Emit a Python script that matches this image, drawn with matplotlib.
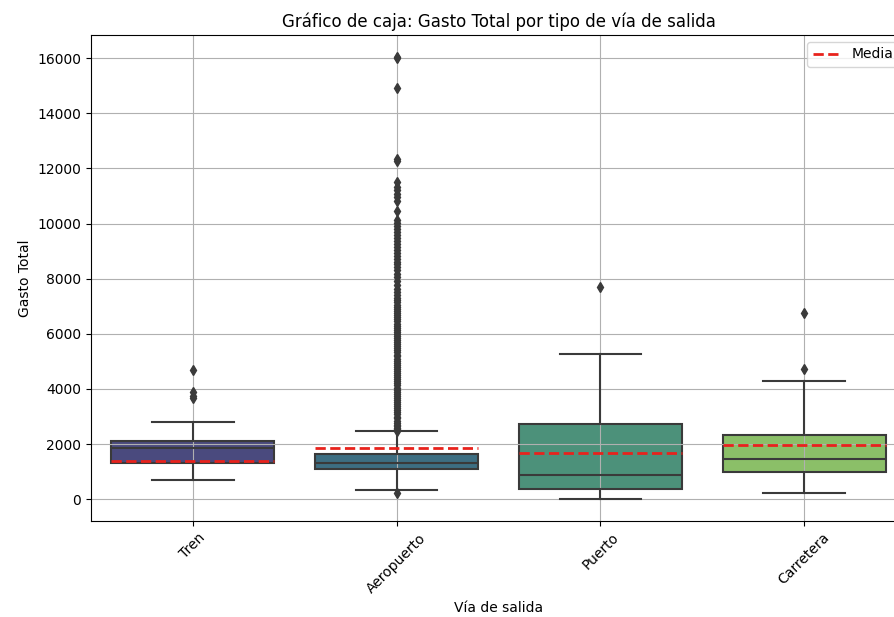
import matplotlib
matplotlib.use("Agg")
import matplotlib.pyplot as plt

# Box statistics of total spending per exit route
categorias = ["Tren", "Aeropuerto", "Puerto", "Carretera"]
q1 = [1306, 1078, 374, 991]
medianas = [1862, 1331, 896, 1476]
q3 = [2113, 1633, 2733, 2347]
bigote_inf = [715, 327, 11, 242]
bigote_sup = [2805, 2467, 5286, 4293]
medias = [1404, 1840, 1680, 1984]

atipicos_tren = [4680, 3880, 3760, 3680]
atipicos_aeropuerto = [
    16040, 15990, 14920, 12350, 12270, 11510, 11320, 11200, 11080, 10960,
    10830, 10440, 10120, 10010, 9900, 9790, 9680, 9590, 9480, 9370, 9260,
    9150, 9040, 8950, 8840, 8730, 8620, 8520, 8410, 8300, 8180, 8050, 7900,
    7760, 7620, 7500, 7400, 7310, 7220, 7140, 7060, 6980, 6900, 6830, 6750,
    6680, 6600, 6520, 6450, 6370, 6300, 6220, 6150, 6070, 6000, 5920, 5850,
    5770, 5700, 5620, 5550, 5470, 5400, 5330, 5250, 5180, 5100, 5030, 4950,
    4880, 4800, 4730, 4650, 4580, 4500, 4430, 4350, 4280, 4200, 4130, 4050,
    3980, 3900, 3830, 3750, 3680, 3600, 3530, 3450, 3380, 3300, 3230, 3150,
    3080, 3000, 2930, 2850, 2780, 2700, 2640, 2580, 2530, 2490, 210,
]
atipicos_puerto = [7717]
atipicos_carretera = [6749, 4706]
atipicos = [atipicos_tren, atipicos_aeropuerto, atipicos_puerto, atipicos_carretera]

# muted viridis tones for the boxes, dark gray for the lines
colores = ["#4a4a7e", "#3d6e82", "#4c917a", "#8bbf68"]
gris = "#3a3a3a"

fig = plt.figure(figsize=(8.94, 6.17), dpi=100)
ax = fig.add_axes([91 / 894, 96 / 617, 815 / 894, 486 / 617])

stats = []
for i, cat in enumerate(categorias):
    stats.append(dict(label=cat, q1=q1[i], med=medianas[i], q3=q3[i],
                      whislo=bigote_inf[i], whishi=bigote_sup[i],
                      fliers=atipicos[i]))

pos = list(range(len(categorias)))
art = ax.bxp(stats, positions=pos, widths=0.8, patch_artist=True,
             showfliers=True, manage_ticks=False)

for caja, color in zip(art["boxes"], colores):
    caja.set(facecolor=color, edgecolor=gris, linewidth=1.5, zorder=0.9)
for key in ("whiskers", "caps", "medians"):
    for ln in art[key]:
        ln.set(color=gris, linewidth=1.5, linestyle="-")
for fl in art["fliers"]:
    fl.set(marker="d", markerfacecolor=gris, markeredgecolor=gris, markersize=5)

for i, m in enumerate(medias):
    ax.plot([i - 0.4, i + 0.4], [m, m], color="#e8221c", linestyle="--",
            linewidth=2, label="Media" if i == 0 else None)

ax.set_xlim(-0.5, len(categorias) - 0.5)
ax.set_xticks(pos)
ax.set_xticklabels(categorias, rotation=45)
ax.set_title("Gráfico de caja: Gasto Total por tipo de vía de salida", fontsize=12)
ax.set_xlabel("Vía de salida")
ax.set_ylabel("Gasto Total")
ax.grid(True)
ax.legend(loc="upper right")

fig.savefig("out.png", dpi=100)
